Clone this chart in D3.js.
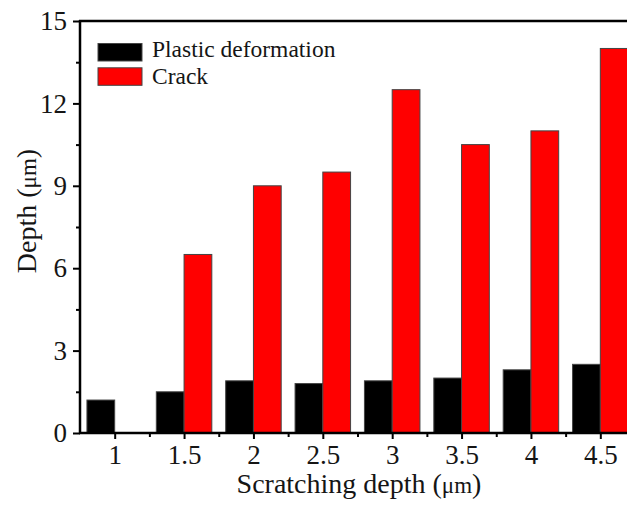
<!DOCTYPE html>
<html>
<head>
<meta charset="utf-8">
<script src="https://cdn.jsdelivr.net/npm/d3@7"></script>
<style>
  html, body { margin: 0; padding: 0; background: #fff; }
  svg { display: block; }
  text { font-family: "Liberation Serif", "Times New Roman", serif; fill: #151515; }
</style>
</head>
<body>
<svg id="chart" width="627" height="507"></svg>
<script>
// Scratching depths (µm) used as category positions
const depths = [1, 1.5, 2, 2.5, 3, 3.5, 4, 4.5];
// Measured depth of each damage type (µm); null = not observed
const plastic = [1.2, 1.5, 1.9, 1.8, 1.9, 2.0, 2.3, 2.5];
const crack = [null, 6.5, 9.0, 9.5, 12.5, 10.5, 11.0, 14.0];
const yTicks = [0, 3, 6, 9, 12, 15];
const seriesNames = ["Plastic deformation", "Crack"];
const seriesColors = ["#000000", "#ff0000"];

const svg = d3.select("#chart");
const plotLeft = 80, plotTop = 21, plotBottom = 433, plotRight = 635;

const x = d3.scaleLinear().domain([0.75, 4.75]).range([plotLeft, plotRight]);
const y = d3.scaleLinear().domain([0, 15]).range([plotBottom, plotTop]);
const barW = 0.2; // bar width in x units

// bars: plastic to the left of each category, crack to the right
const series = [plastic, crack];
series.forEach((vals, si) => {
  const data = depths.map((d, i) => ({ d, v: vals[i] })).filter(o => o.v != null);
  svg.append("g").selectAll("rect").data(data).join("rect")
    .attr("x", o => si === 0 ? x(o.d - barW) : x(o.d))
    .attr("width", x(barW) - x(0))
    .attr("y", o => y(o.v))
    .attr("height", o => y(0) - y(o.v))
    .attr("fill", seriesColors[si])
    .attr("stroke", "#444")
    .attr("stroke-width", 1);
});

// y axis with major and minor ticks
const yAxis = d3.axisLeft(y).tickValues(yTicks).tickSize(7).tickPadding(6).tickFormat(d3.format("d"));
const yMinor = d3.axisLeft(y).tickValues(d3.range(1.5, 15, 3)).tickSize(4).tickFormat("");
svg.append("g").attr("transform", `translate(${plotLeft},0)`).call(yAxis);
svg.append("g").attr("transform", `translate(${plotLeft},0)`).call(yMinor);

// x axis with major and minor ticks
const xAxis = d3.axisBottom(x).tickValues(depths).tickSize(6).tickPadding(6).tickFormat(d => String(d));
const xMinor = d3.axisBottom(x).tickValues(d3.range(1.25, 4.75, 0.5)).tickSize(4).tickFormat("");
svg.append("g").attr("transform", `translate(0,${plotBottom})`).call(xAxis);
svg.append("g").attr("transform", `translate(0,${plotBottom})`).call(xMinor);

svg.selectAll(".domain").remove();
svg.selectAll(".tick line").attr("stroke", "#000").attr("stroke-width", 2);
svg.selectAll(".tick text").style("font-family", "Liberation Serif, serif").style("font-size", "27px").attr("fill", "#151515");

// frame lines
svg.append("line").attr("x1", plotLeft).attr("x2", plotLeft).attr("y1", plotTop - 1).attr("y2", plotBottom + 1)
  .attr("stroke", "#000").attr("stroke-width", 2.5);
svg.append("line").attr("x1", plotLeft - 1).attr("x2", 627).attr("y1", plotBottom).attr("y2", plotBottom)
  .attr("stroke", "#000").attr("stroke-width", 2.5);
svg.append("line").attr("x1", plotLeft - 1).attr("x2", 627).attr("y1", plotTop).attr("y2", plotTop)
  .attr("stroke", "#000").attr("stroke-width", 2.5);

// axis titles (the µ unit is set slightly smaller, as a symbol glyph)
const xt = svg.append("text").attr("x", 359).attr("y", 493).attr("text-anchor", "middle")
  .style("font-size", "28px");
xt.append("tspan").text("Scratching depth (");
xt.append("tspan").style("font-size", "23px").text("μm");
xt.append("tspan").text(")");

const yt = svg.append("text").attr("transform", "translate(36,211) rotate(-90)").attr("text-anchor", "middle")
  .style("font-size", "28px");
yt.append("tspan").text("Depth (");
yt.append("tspan").style("font-size", "23px").text("μm");
yt.append("tspan").text(")");

// legend
const lg = svg.append("g");
seriesNames.forEach((name, i) => {
  const yy = 43.5 + i * 24.3;
  lg.append("rect").attr("x", 98).attr("y", yy).attr("width", 44).attr("height", 17.5)
    .attr("fill", seriesColors[i]).attr("stroke", "#444").attr("stroke-width", 1);
  lg.append("text").attr("x", 152).attr("y", 57 + i * 26.5).style("font-size", "23.5px").text(name);
});
</script>
</body>
</html>
